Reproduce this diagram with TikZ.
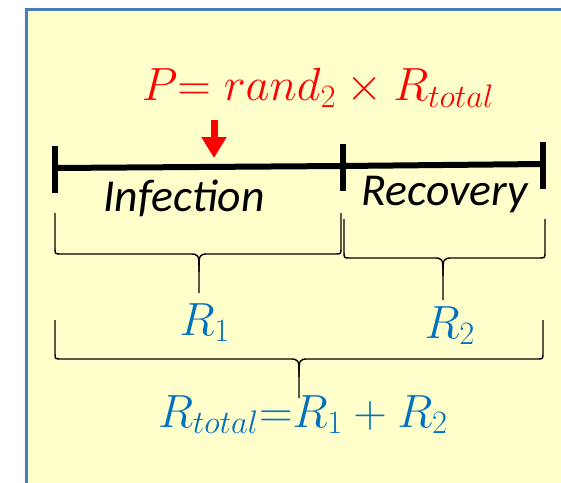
\RequirePackage{fix-cm}
\documentclass[tikz,border=0pt]{standalone}
\usepackage{fontspec}
\newfontfamily\calibfont{Carlito}
\usetikzlibrary{arrows.meta}
\definecolor{boxfill}{RGB}{255,255,204}
\definecolor{boxline}{RGB}{74,126,187}
\definecolor{rateblue}{RGB}{0,112,192}
\newcommand{\phbrace}[6]{%
  \draw[brc] (#1,#4) -- (#1,#5-6) .. controls (#1,#5) .. (#1+6,#5) -- (#3-10,#5) .. controls (#3,#5) .. (#3,#5+18) -- (#3,#6);
  \draw[brc] (#2,#4) -- (#2,#5-6) .. controls (#2,#5) .. (#2-6,#5) -- (#3+10,#5) .. controls (#3,#5) .. (#3,#5+18);}

\begin{document}
\begin{tikzpicture}[x=0.02cm, y=-0.02cm,
    formula/.style={text=red, font=\fontsize{26.5}{30}\selectfont, anchor=base, inner sep=0pt},
    phase/.style={font=\calibfont\itshape\fontsize{26}{30}\selectfont, anchor=base, inner sep=0pt},
    rlabel/.style={text=rateblue, font=\fontsize{26.5}{30}\selectfont, anchor=base, inner sep=0pt},
    bar/.style={line width=0.12cm},
    tickmark/.style={line width=0.12cm},
    brc/.style={line width=0.8pt, line join=round},
    pick/.style={red, line width=0.14cm, -{Triangle[width=0.48cm,length=0.42cm]}}
]
\useasboundingbox (0,0) rectangle (561,483);
\clip (0,0) rectangle (561,483);
\draw[boxline, line width=0.06cm, fill=boxfill] (26,10) rectangle (620,540);

\node[formula] (pform) at (318,101) {$P{=}\;rand_2\times R_{total}$};
\coordinate (pstart) at (214,120);
\coordinate (ptip) at (214,158);
\draw[pick] (pstart) -- (ptip);

\coordinate (la) at (55,168);
\coordinate (lm) at (343,166);
\coordinate (lb) at (543,164);
\draw[bar] (la) -- (lm) -- (lb);
\foreach \c in {la,lm,lb}
  \draw[tickmark] (\c) ++(0,-22) -- ++(0,47);

\node[phase] (inf) at (184,211) {Infection};
\node[phase] (rec) at (445,205) {Recovery};

\phbrace{55}{341}{199}{213}{254}{293}
\phbrace{344}{545}{443}{219}{258}{300}
\phbrace{55}{543}{299}{320}{359}{398}

\node[rlabel] (rone) at (205,335) {$R_1$};
\node[rlabel] (rtwo) at (450,338) {$R_2$};
\node[rlabel] (rtot) at (303,427) {$R_{total}{=}R_1+R_2$};
\end{tikzpicture}
\end{document}
